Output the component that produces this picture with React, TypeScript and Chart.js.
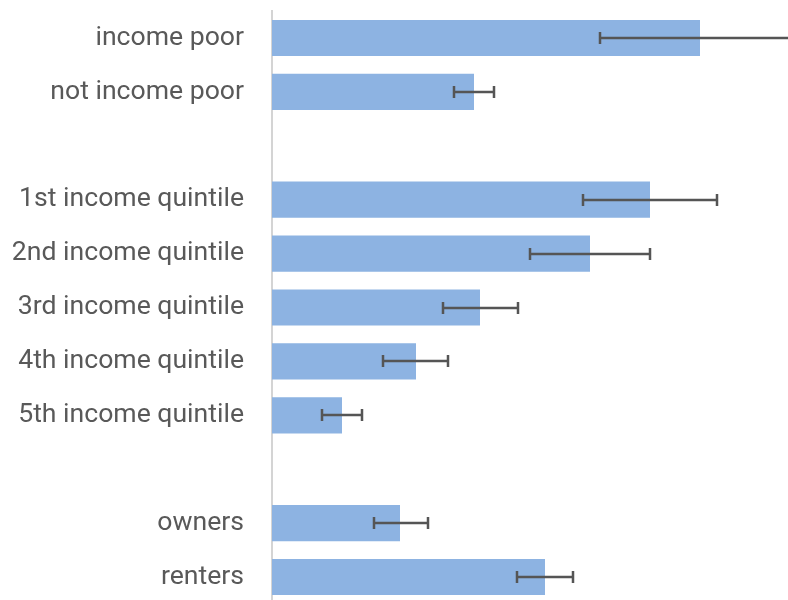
import React, { useEffect, useRef } from "react";
import { Chart, registerables } from "chart.js";

Chart.register(...registerables);

const categories = [
  "income poor",
  "not income poor",
  "",
  "1st income quintile",
  "2nd income quintile",
  "3rd income quintile",
  "4th income quintile",
  "5th income quintile",
  "",
  "owners",
  "renters",
];

const values: (number | null)[] = [21.4, 10.1, null, 18.9, 15.9, 10.4, 7.2, 3.5, null, 6.4, 13.65];
const errorLow: (number | null)[] = [16.4, 9.1, null, 15.55, 12.9, 8.55, 5.55, 2.5, null, 5.1, 12.25];
const errorHigh: (number | null)[] = [26.4, 11.1, null, 22.25, 18.9, 12.3, 8.8, 4.5, null, 7.8, 15.05];

const X_MAX = 25.8;

const errorBarPlugin = {
  id: "errorBars",
  afterDatasetsDraw(chart: any) {
    const ctx = chart.ctx;
    const xScale = chart.scales.x;
    const meta = chart.getDatasetMeta(0);
    ctx.save();
    ctx.strokeStyle = "#555555";
    ctx.lineWidth = 2.5;
    meta.data.forEach((bar: any, i: number) => {
      const lo = errorLow[i];
      const hi = errorHigh[i];
      if (lo == null || hi == null) return;
      const y = Math.round(bar.y);
      const x1 = xScale.getPixelForValue(lo);
      const x2 = xScale.getPixelForValue(hi);
      ctx.beginPath();
      ctx.moveTo(x1, y);
      ctx.lineTo(x2, y);
      ctx.moveTo(x1, y - 6);
      ctx.lineTo(x1, y + 6);
      ctx.moveTo(x2, y - 6);
      ctx.lineTo(x2, y + 6);
      ctx.stroke();
    });
    ctx.restore();
  },
};

export default function App() {
  const canvasRef = useRef<HTMLCanvasElement | null>(null);

  useEffect(() => {
    if (!canvasRef.current) return;
    const chart = new Chart(canvasRef.current, {
      type: "bar",
      data: {
        labels: categories,
        datasets: [
          {
            data: values,
            backgroundColor: "#8DB3E2",
            borderWidth: 0,
            barPercentage: 0.67,
            categoryPercentage: 1,
          },
        ],
      },
      options: {
        indexAxis: "y",
        animation: false,
        responsive: false,
        maintainAspectRatio: false,
        layout: { autoPadding: false, padding: { top: 11, right: 0, bottom: 0, left: 0 } },
        plugins: {
          legend: { display: false },
          tooltip: { enabled: false },
        },
        scales: {
          x: {
            display: false,
            min: 0,
            max: X_MAX,
          },
          y: {
            afterFit: (scale: any) => {
              scale.width = 272;
              scale.paddingTop = 0;
              scale.paddingBottom = 0;
            },
            grid: { display: false, drawTicks: false },
            border: { display: true, color: "#d4d4d4", width: 2 },
            ticks: {
              color: "#595959",
              padding: 28,
              autoSkip: false,
              font: { family: "Roboto", size: 26.6 },
            },
          },
        },
      },
      plugins: [errorBarPlugin],
    });
    return () => chart.destroy();
  }, []);

  return (
    <div style={{ position: "fixed", left: 0, top: 0, width: 788, height: 600, overflow: "hidden", background: "#fff" }}>
      <canvas ref={canvasRef} width={788} height={604} style={{ display: "block", width: 788, height: 604 }} />
    </div>
  );
}
